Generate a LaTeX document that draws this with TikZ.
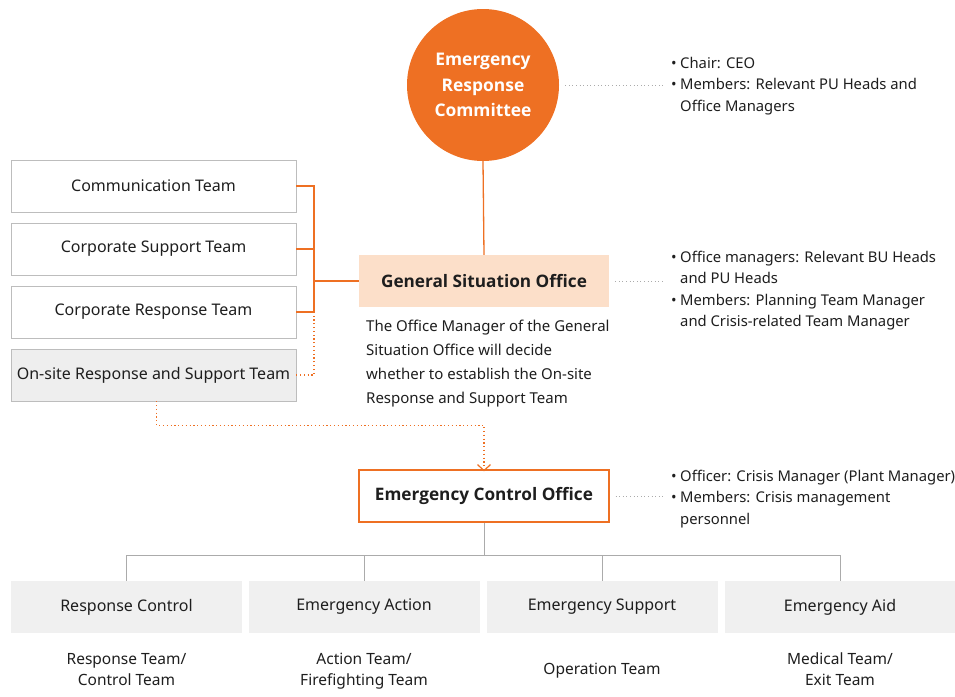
\documentclass[tikz,border=0pt]{standalone}
\usepackage{fontspec}
\setmainfont{Noto Sans}
\newfontfamily\headfont{Open Sans}
\usetikzlibrary{arrows.meta}
\definecolor{erorange}{HTML}{EE7023}
\definecolor{erpeach}{HTML}{FCDFC9}
\definecolor{boxline}{HTML}{BDBDBD}
\definecolor{boxfill}{HTML}{EEEEEE}
\definecolor{lowfill}{HTML}{F0F0F0}
\definecolor{treeline}{HTML}{ABABAB}
\definecolor{txt}{HTML}{1E1E1E}
\tikzset{
    teambox/.style={draw=boxline, minimum width=285pt, minimum height=52pt, inner sep=0pt, font=\fontsize{16}{20}\selectfont},
    officebox/.style={minimum width=250pt, minimum height=52pt, inner sep=0pt, font=\headfont\bfseries\fontsize{17.2}{20}\selectfont},
    unitbox/.style={fill=lowfill, minimum width=231pt, minimum height=52pt, inner sep=0pt, font=\fontsize{16}{20}\selectfont},
    note/.style={align=left, inner sep=0pt, anchor=base west, font=\fontsize{14.8}{21.5}\selectfont},
    unitnote/.style={align=center, inner sep=0pt, anchor=base, font=\fontsize{15.5}{21}\selectfont},
    orangeline/.style={draw=erorange, line width=1.3pt},
    orangedots/.style={draw=erorange, line width=1.2pt, dash pattern=on 1.2pt off 2.6pt},
    graydots/.style={draw=treeline, line width=1pt, dash pattern=on 1pt off 2.6pt},
}
\newcommand{\bul}{\makebox[9pt][l]{•}}
\newcommand{\ind}{\hspace*{9pt}}
\begin{document}
\begin{tikzpicture}[x=1pt, y=-1pt, text=txt, >={Straight Barb[length=6pt, width=13pt]}]
\useasboundingbox (0,0) rectangle (955,696);
\node[circle, fill=erorange, minimum size=152pt, inner sep=0pt, text=white, align=center,
    font=\headfont\bfseries\fontsize{17.4}{25.5}\selectfont] (committee) at (483,85) {Emergency\\Response\\Committee};
\node[officebox, fill=erpeach] (gso) at (484,281) {General Situation Office};
\node[officebox, draw=erorange, line width=1.2pt] (eco) at (484,496) {Emergency Control Office};
\node[teambox] (comm) at (153.5,186) {Communication Team};
\node[teambox] (corpsup) at (153.5,249) {Corporate Support Team};
\node[teambox] (corpresp) at (153.5,312) {Corporate Response Team};
\node[teambox, fill=boxfill] (onsite) at (153.5,375) {On-site Response and Support Team};
\node[unitbox] (rc) at (126.5,607) {Response Control};
\node[unitbox] (ea) at (364,607) {Emergency Action};
\node[unitbox] (es) at (602,607) {Emergency Support};
\node[unitbox] (eaid) at (840,607) {Emergency Aid};
% base anchor of a multi-line node sits on its last line
\node[unitnote] (rcnote) at (126.5,685) {Response Team/\\Control Team};
\node[unitnote] (eanote) at (364,685) {Action Team/\\Firefighting Team};
\node[unitnote] (esnote) at (602,674) {Operation Team};
\node[unitnote] (eaidnote) at (840,685) {Medical Team/\\Exit Team};
\node[note, font=\fontsize{15}{24}\selectfont] (gsonote) at (366,403) {The Office Manager of the General\\Situation Office will decide\\whether to establish the On-site\\Response and Support Team};
\node[note] (cmtlist) at (671,111) {\bul Chair: CEO\\\bul Members: Relevant PU Heads and\\\ind Office Managers};
\node[note] (gsolist) at (671,326.5) {\bul Office managers: Relevant BU Heads\\\ind and PU Heads\\\bul Members: Planning Team Manager\\\ind and Crisis-related Team Manager};
\node[note] (ecolist) at (671,524) {\bul Officer: Crisis Manager (Plant Manager)\\\bul Members: Crisis management\\\ind personnel};
\coordinate (brk) at (314,281);
\draw[orangeline] (committee.south) -- (gso.north);
\draw[orangeline] (comm.east) -| (brk);
\draw[orangeline] (corpsup.east) -- (corpsup.east -| brk);
\draw[orangeline] (corpresp.east) -| (brk) -- (gso.west);
\draw[orangedots] (onsite.east) -| (corpresp.east -| brk);
\draw[orangedots, ->] ([xshift=3pt]onsite.south) -- ++(0,24) -| ([yshift=-2pt]eco.north);
\draw[graydots] ([xshift=6pt]committee.east) -- ([xshift=-6pt]committee.east -| cmtlist.west);
\draw[graydots] ([xshift=6pt]gso.east) -- ([xshift=-8pt]gso.east -| gsolist.west);
\draw[graydots] ([xshift=6pt]eco.east) -- ([xshift=-8pt]eco.east -| ecolist.west);
\draw[treeline, line width=1pt] (eco.south) -- ++(0,33) coordinate (split);
\draw[treeline, line width=1pt] (split) -| (rc.north);
\draw[treeline, line width=1pt] (split) -| (ea.north);
\draw[treeline, line width=1pt] (split) -| (es.north);
\draw[treeline, line width=1pt] (split) -| (eaid.north);
\end{tikzpicture}
\end{document}
